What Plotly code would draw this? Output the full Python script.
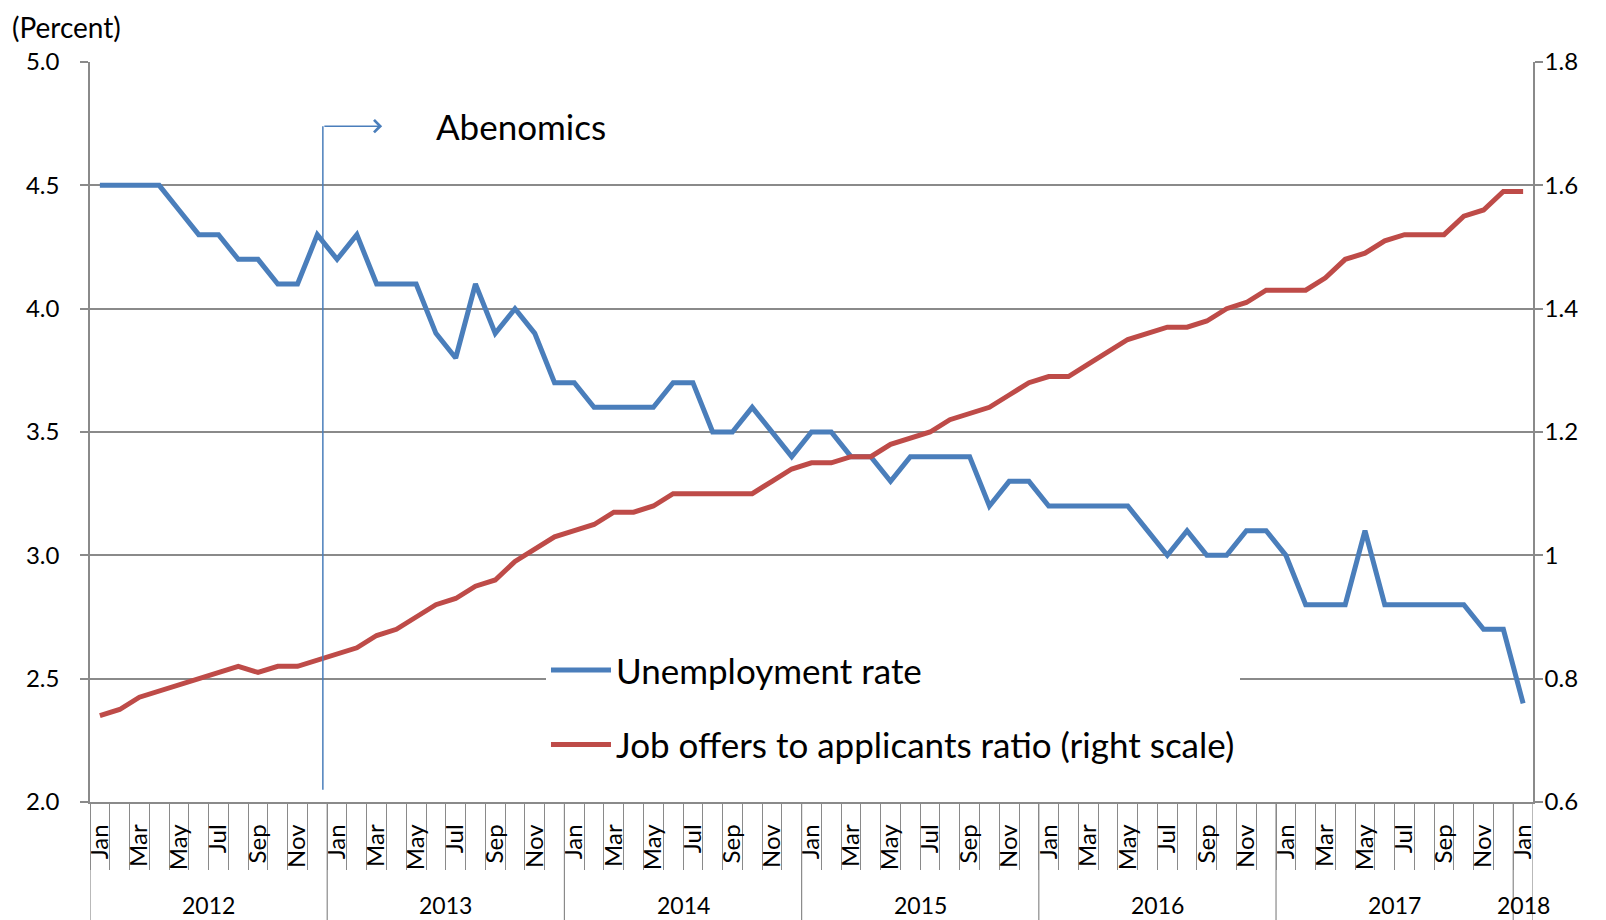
import plotly.graph_objects as go

# ---- data (monthly, Jan 2012 - Jan 2018) ----
years = [2012, 2013, 2014, 2015, 2016, 2017, 2018]
month_names = ["Jan", "Feb", "Mar", "Apr", "May", "Jun",
               "Jul", "Aug", "Sep", "Oct", "Nov", "Dec"]

unemployment = [
    4.5, 4.5, 4.5, 4.5, 4.4, 4.3, 4.3, 4.2, 4.2, 4.1, 4.1, 4.3,   # 2012
    4.2, 4.3, 4.1, 4.1, 4.1, 3.9, 3.8, 4.1, 3.9, 4.0, 3.9, 3.7,   # 2013
    3.7, 3.6, 3.6, 3.6, 3.6, 3.7, 3.7, 3.5, 3.5, 3.6, 3.5, 3.4,   # 2014
    3.5, 3.5, 3.4, 3.4, 3.3, 3.4, 3.4, 3.4, 3.4, 3.2, 3.3, 3.3,   # 2015
    3.2, 3.2, 3.2, 3.2, 3.2, 3.1, 3.0, 3.1, 3.0, 3.0, 3.1, 3.1,   # 2016
    3.0, 2.8, 2.8, 2.8, 3.1, 2.8, 2.8, 2.8, 2.8, 2.8, 2.7, 2.7,   # 2017
    2.4,                                                          # 2018
]
job_ratio = [
    0.74, 0.75, 0.77, 0.78, 0.79, 0.80, 0.81, 0.82, 0.81, 0.82, 0.82, 0.83,
    0.84, 0.85, 0.87, 0.88, 0.90, 0.92, 0.93, 0.95, 0.96, 0.99, 1.01, 1.03,
    1.04, 1.05, 1.07, 1.07, 1.08, 1.10, 1.10, 1.10, 1.10, 1.10, 1.12, 1.14,
    1.15, 1.15, 1.16, 1.16, 1.18, 1.19, 1.20, 1.22, 1.23, 1.24, 1.26, 1.28,
    1.29, 1.29, 1.31, 1.33, 1.35, 1.36, 1.37, 1.37, 1.38, 1.40, 1.41, 1.43,
    1.43, 1.43, 1.45, 1.48, 1.49, 1.51, 1.52, 1.52, 1.52, 1.55, 1.56, 1.59,
    1.59,
]

left_ticks = [2.0, 2.5, 3.0, 3.5, 4.0, 4.5, 5.0]
right_ticks = [0.6, 0.8, 1.0, 1.2, 1.4, 1.6, 1.8]
right_text = ["0.6", "0.8", "1", "1.2", "1.4", "1.6", "1.8"]

BLUE = "#4a7ebb"
RED = "#be4b48"
GRID = "#8a8a8a"
FONT = "Lato"

n = len(unemployment)
idx = list(range(n))
period_year = [years[0] + i // 12 for i in idx]
period_month = [month_names[i % 12] for i in idx]

fig = go.Figure()
fig.add_trace(go.Scatter(
    x=idx, y=unemployment, name="Unemployment rate",
    mode="lines", line=dict(color=BLUE, width=5),
    legendgroup="u",
))
fig.add_trace(go.Scatter(
    x=idx, y=job_ratio, name="Job offers to applicants ratio (right scale)",
    mode="lines", line=dict(color=RED, width=5), yaxis="y2",
    legendgroup="j",
))

# year separators + year labels under the month labels
for y in years:
    members = [i for i in idx if period_year[i] == y]
    start = members[0] - 0.5
    fig.add_shape(type="line", xref="x", yref="paper",
                  x0=start, x1=start, y0=0, y1=-0.25,
                  line=dict(color=GRID, width=1.2), layer="above")
    fig.add_annotation(x=sum(members) / len(members), xref="x",
                       y=-0.139, yref="paper", yanchor="middle",
                       text=str(y), showarrow=False,
                       font=dict(size=23, family=FONT, color="black"))
fig.add_shape(type="line", xref="x", yref="paper",
              x0=n - 0.5, x1=n - 0.5, y0=0, y1=-0.25,
              line=dict(color=GRID, width=1.2), layer="above")

# Abenomics marker (just after Dec 2012)
abe_x = period_month.index("Dec") + 0.28
fig.add_shape(type="line", xref="x", yref="y", x0=abe_x, x1=abe_x,
              y0=2.05, y1=4.74, line=dict(color=BLUE, width=1.5),
              layer="above")
fig.add_annotation(x=abe_x + 3.0, y=4.74, ax=abe_x, ay=4.74,
                   xref="x", yref="y", axref="x", ayref="y",
                   text="", showarrow=True, arrowhead=4, arrowsize=1.6,
                   arrowwidth=1.5, arrowcolor=BLUE)
fig.add_annotation(x=abe_x + 5.6, y=4.74, xref="x", yref="y",
                   xanchor="left", yanchor="middle", text="Abenomics",
                   showarrow=False,
                   font=dict(size=35, family=FONT, color="black"))

fig.add_annotation(x=-0.055, y=1.072, xref="paper", yref="paper",
                   xanchor="left", yanchor="top", text="(Percent)",
                   showarrow=False, borderpad=0,
                   font=dict(size=28, family=FONT, color="black"))

# page body has an 8px margin, so the figure is 8px smaller each way
fig.update_layout(
    width=1598, height=912,
    margin=dict(l=82, r=73, t=54, b=118),
    paper_bgcolor="white", plot_bgcolor="white",
    font=dict(family=FONT, color="black", size=22),
    legend=dict(x=0.316, y=0.218, xanchor="left", yanchor="top",
                bgcolor="white", borderwidth=0,
                font=dict(size=35, family=FONT, color="black"),
                itemwidth=60, tracegroupgap=26),
    xaxis=dict(
        range=[-0.5, n - 0.5], automargin=False,
        tickmode="array",
        tickvals=[i for i in idx if i % 2 == 0],
        ticktext=[period_month[i] for i in idx if i % 2 == 0],
        tickangle=-90, ticks="", ticklabelstandoff=11,
        tickfont=dict(size=24, family=FONT, color="black"),
        showgrid=False, zeroline=False,
        showline=True, linecolor=GRID, linewidth=1.5,
        minor=dict(tickmode="array", tickvals=[i - 0.5 for i in idx],
                   ticks="outside", ticklen=66, tickcolor=GRID,
                   tickwidth=1.2, showgrid=False),
    ),
    yaxis=dict(
        range=[2.0, 5.0], automargin=False,
        tickmode="array", tickvals=left_ticks,
        tickformat=".1f", ticks="outside", ticklen=8, tickcolor=GRID,
        tickwidth=1.5, ticklabelstandoff=16,
        showgrid=True, gridcolor=GRID, gridwidth=1.5, zeroline=False,
        showline=True, linecolor=GRID, linewidth=1.5,
        tickfont=dict(size=24, family=FONT, color="black"),
    ),
    yaxis2=dict(
        range=[0.6, 1.8], automargin=False, overlaying="y", side="right",
        tickmode="array", tickvals=right_ticks, ticktext=right_text,
        ticks="outside", ticklen=8, tickcolor=GRID, tickwidth=1.5,
        ticklabelstandoff=-3,
        showgrid=False, zeroline=False,
        showline=True, linecolor=GRID, linewidth=1.5,
        tickfont=dict(size=24, family=FONT, color="black"),
    ),
)

fig.write_html("out.html")
